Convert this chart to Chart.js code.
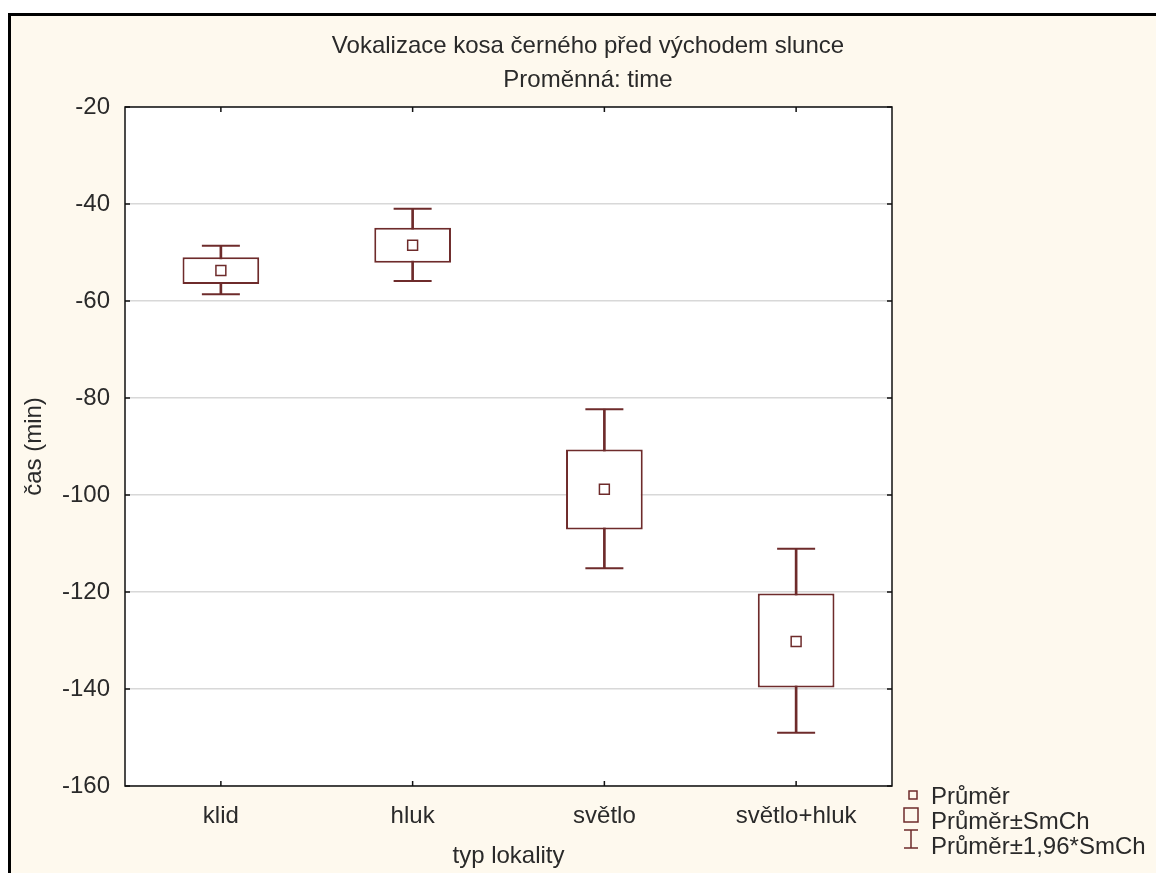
<!DOCTYPE html>
<html>
<head>
<meta charset="utf-8">
<script src="https://cdn.jsdelivr.net/npm/chart.js@4.4.1/dist/chart.umd.min.js"></script>
<style>
  html, body { margin: 0; padding: 0; background: #fff; overflow: hidden; }
  #frame {
    position: absolute; left: 8px; top: 13px; width: 1200px; height: 900px;
    background: #fef9ee; border-left: 3px solid #000; border-top: 3px solid #000;
  }
  #chart { position: absolute; left: 0; top: 0; }
</style>
</head>
<body>
<div id="frame"></div>
<canvas id="chart" width="1156" height="873"></canvas>
<script>
// data
const categories = ['klid', 'hluk', 'světlo', 'světlo+hluk'];
const means  = [-53.7, -48.5, -98.8, -130.2];
const seLow  = [-56.5, -52.1, -107.1, -139.7];
const seHigh = [-51.0, -44.9, -90.6, -120.3];
const ciLow  = [-58.6, -55.9, -115.1, -149.0];
const ciHigh = [-48.6, -41.0, -82.3, -111.1];
const yTicks = [-160, -140, -120, -100, -80, -60, -40, -20];

const titleLines = ['Vokalizace kosa černého před východem slunce', 'Proměnná: time'];
const legendItems = ['Průměr', 'Průměr±SmCh', 'Průměr±1,96*SmCh'];

const MAROON = '#6e2b2b';
const FONT = '"Liberation Sans", Arial, sans-serif';
const TEXT = '#2a2a2a';
const FS = 24;

// white plot background
const plotBg = {
  id: 'plotBg',
  beforeDraw(chart) {
    const a = chart.chartArea;
    chart.ctx.save();
    chart.ctx.fillStyle = '#ffffff';
    chart.ctx.fillRect(a.left, a.top, a.right - a.left, a.bottom - a.top);
    chart.ctx.restore();
  }
};

// title, plot frame, inward ticks and legend
const decorations = {
  id: 'decorations',
  afterDraw(chart) {
    const ctx = chart.ctx;
    const a = chart.chartArea;
    const xs = chart.scales.x, ys = chart.scales.y;
    ctx.save();
    // title
    ctx.fillStyle = TEXT;
    ctx.font = FS + 'px ' + FONT;
    ctx.textAlign = 'center';
    ctx.textBaseline = 'middle';
    ctx.fillText(titleLines[0], 588, 46);
    ctx.fillText(titleLines[1], 588, 80);

    // frame
    ctx.strokeStyle = '#111';
    ctx.lineWidth = 1.5;
    ctx.strokeRect(a.left, a.top, a.right - a.left, a.bottom - a.top);
    // inward ticks
    ctx.beginPath();
    categories.forEach((c, i) => {
      const x = xs.getPixelForValue(i);
      ctx.moveTo(x, a.bottom); ctx.lineTo(x, a.bottom - 5);
      ctx.moveTo(x, a.top); ctx.lineTo(x, a.top + 5);
    });
    yTicks.forEach(v => {
      const y = ys.getPixelForValue(v);
      ctx.moveTo(a.left, y); ctx.lineTo(a.left + 5, y);
      ctx.moveTo(a.right, y); ctx.lineTo(a.right - 5, y);
    });
    ctx.stroke();

    // legend
    ctx.strokeStyle = MAROON;
    ctx.lineWidth = 1.5;
    ctx.strokeRect(909, 791, 8, 8);
    ctx.strokeRect(904, 808, 14, 14);
    ctx.beginPath();
    ctx.moveTo(904, 830); ctx.lineTo(918, 830);
    ctx.moveTo(911, 830); ctx.lineTo(911, 848);
    ctx.moveTo(904, 848); ctx.lineTo(918, 848);
    ctx.stroke();
    ctx.fillStyle = TEXT;
    ctx.textAlign = 'left';
    ctx.fillText(legendItems[0], 931, 797);
    ctx.fillText(legendItems[1], 931, 822);
    ctx.fillText(legendItems[2], 931, 847);
    ctx.restore();
  }
};

const pointSet = (label, values, extra) => Object.assign({
  type: 'line', label: label, data: values, showLine: false,
  borderColor: MAROON, pointBorderColor: MAROON, order: 1
}, extra);

new Chart(document.getElementById('chart'), {
  type: 'bar',
  data: {
    labels: categories,
    datasets: [
      {
        label: 'stem',
        data: categories.map((c, i) => [ciLow[i], ciHigh[i]]),
        backgroundColor: MAROON, barThickness: 2, grouped: false, order: 3
      },
      {
        label: 'Průměr±SmCh',
        data: categories.map((c, i) => [seLow[i], seHigh[i]]),
        backgroundColor: '#ffffff', borderColor: MAROON, borderWidth: 2,
        borderSkipped: false, barPercentage: 0.4, categoryPercentage: 1,
        grouped: false, order: 2
      },
      pointSet('ciHigh', ciHigh, { pointStyle: 'line', pointRadius: 19, pointBorderWidth: 2 }),
      pointSet('ciLow', ciLow, { pointStyle: 'line', pointRadius: 19, pointBorderWidth: 2 }),
      pointSet('Průměr', means, {
        pointStyle: 'rect', pointRadius: 7, pointBorderWidth: 1.5,
        pointBackgroundColor: '#ffffff', order: 0
      })
    ]
  },
  options: {
    responsive: false,
    animation: false,
    layout: { padding: { left: 0, top: 107, right: 264, bottom: 0 } },
    plugins: { legend: { display: false }, tooltip: { enabled: false }, title: { display: false } },
    scales: {
      x: {
        grid: { display: false },
        border: { display: false },
        ticks: { color: TEXT, font: { family: FONT, size: FS }, padding: 8 },
        title: { display: true, text: 'typ lokality', color: TEXT, font: { family: FONT, size: FS }, padding: { top: 0, bottom: 2 } },
        afterFit(scale) { scale.height = 87; }
      },
      y: {
        min: -160, max: -20,
        grid: { color: '#d8d8d8', lineWidth: 1.5, drawTicks: false },
        border: { display: false },
        ticks: { stepSize: 20, color: TEXT, font: { family: FONT, size: FS }, padding: 15 },
        title: { display: true, text: 'čas (min)', color: TEXT, font: { family: FONT, size: FS }, padding: { top: 20, bottom: 0 } },
        afterFit(scale) { scale.width = 125; }
      }
    }
  },
  plugins: [plotBg, decorations]
});
</script>
</body>
</html>
